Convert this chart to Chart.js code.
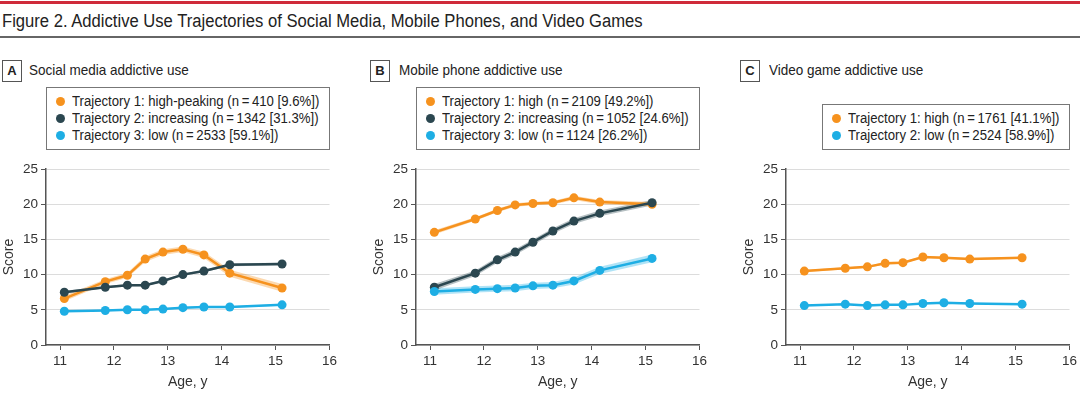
<!DOCTYPE html>
<html>
<head>
<meta charset="utf-8">
<script src="https://cdn.jsdelivr.net/npm/chart.js@4.4.1/dist/chart.umd.min.js"></script>
<style>
  body { margin: 0; background: #fff; overflow: hidden; }
  #fig { position: relative; width: 1080px; height: 396px; font-family: "Liberation Sans", sans-serif; color: #222; }
  .redbar { position: absolute; left: 0; top: 1px; width: 1080px; height: 3px; background: #cf2a3a; }
  .title { position: absolute; left: 2px; top: 10px; font-size: 18px; line-height: 22px; white-space: nowrap; transform: scaleX(0.923); transform-origin: left; }
  .rule { position: absolute; left: 0; top: 36px; width: 1080px; height: 2px; background: #666; }
  .plabel { position: absolute; top: 60px; width: 18px; height: 20px; border: 1.5px solid #555; font-weight: bold; font-size: 13px; line-height: 20px; text-align: center; }
  .ptitle { position: absolute; top: 59px; font-size: 15px; line-height: 22px; white-space: nowrap; transform: scaleX(0.9); transform-origin: left; }
  .legend { position: absolute; border: 1.5px solid #777; background: #fff; box-sizing: border-box; padding: 5px 0 0 9px; }
  .legend div { font-size: 14px; line-height: 17px; white-space: nowrap; }
  .legend .dot { display: inline-block; width: 9px; height: 9px; border-radius: 50%; margin-right: 7px; vertical-align: 0px; }
  .legend .txt { display: inline-block; transform: scaleX(0.94); transform-origin: left; }
  canvas { position: absolute; top: 150px; }
</style>
</head>
<body>
<div id="fig">
  <div class="redbar"></div>
  <div class="title">Figure 2. Addictive Use Trajectories of Social Media, Mobile Phones, and Video Games</div>
  <div class="rule"></div>

  <div class="plabel" style="left:2px">A</div>
  <div class="ptitle" style="left:29px">Social media addictive use</div>
  <div class="plabel" style="left:370px">B</div>
  <div class="ptitle" style="left:399px">Mobile phone addictive use</div>
  <div class="plabel" style="left:740px">C</div>
  <div class="ptitle" style="left:769px">Video game addictive use</div>

  <div class="legend" id="legA" style="left:46px; top:87px; width:284px; height:63px"></div>
  <div class="legend" id="legB" style="left:416px; top:87px; width:284px; height:63px"></div>
  <div class="legend" id="legC" style="left:822px; top:104px; width:248px; height:46px"></div>

  <canvas id="chartA" width="340" height="246" style="left:0px"></canvas>
  <canvas id="chartB" width="340" height="246" style="left:370px"></canvas>
  <canvas id="chartC" width="340" height="246" style="left:740px"></canvas>
</div>

<script>
// eixos
const xTicks = [11, 12, 13, 14, 15, 16];
const yTicks = [0, 5, 10, 15, 20, 25];
const ages = [11.08, 11.84, 12.25, 12.58, 12.91, 13.28, 13.67, 14.15, 15.12];

// A - redes sociais
const socialHigh = [6.6, 9.0, 9.9, 12.2, 13.2, 13.6, 12.8, 10.2, 8.1];
const socialInc = [7.5, 8.2, 8.5, 8.5, 9.1, 10.0, 10.5, 11.4, 11.5];
const socialLow = [4.8, 4.9, 5.0, 5.0, 5.1, 5.3, 5.4, 5.4, 5.7];
const socialHighCI = [0.4, 0.35, 0.35, 0.4, 0.4, 0.4, 0.45, 0.5, 0.55];
const socialIncCI = [0.2, 0.15, 0.15, 0.15, 0.15, 0.15, 0.15, 0.2, 0.2];
const socialLowCI = [0.1, 0.1, 0.1, 0.1, 0.1, 0.1, 0.1, 0.1, 0.12];

// B - celular
const phoneHigh = [16.0, 17.9, 19.1, 19.9, 20.1, 20.2, 20.9, 20.3, 20.0];
const phoneInc = [8.2, 10.2, 12.1, 13.2, 14.6, 16.2, 17.6, 18.7, 20.2];
const phoneLow = [7.6, 7.9, 8.0, 8.1, 8.4, 8.5, 9.1, 10.6, 12.3];
const phoneHighCI = [0.3, 0.25, 0.25, 0.25, 0.25, 0.25, 0.3, 0.3, 0.3];
const phoneIncCI = [0.45, 0.4, 0.4, 0.4, 0.4, 0.4, 0.4, 0.4, 0.4];
const phoneLowCI = [0.45, 0.45, 0.45, 0.45, 0.45, 0.45, 0.5, 0.5, 0.55];

// C - videogame
const gameHigh = [10.5, 10.9, 11.1, 11.6, 11.7, 12.5, 12.4, 12.2, 12.4];
const gameLow = [5.6, 5.8, 5.6, 5.7, 5.7, 5.9, 6.0, 5.9, 5.8];
const gameHighCI = [0.15, 0.15, 0.15, 0.15, 0.15, 0.15, 0.15, 0.15, 0.15];
const gameLowCI = [0.1, 0.1, 0.1, 0.1, 0.1, 0.1, 0.1, 0.1, 0.1];

const labelsA = ["Trajectory 1: high-peaking (n\u2009=\u2009410 [9.6%])", "Trajectory 2: increasing (n\u2009=\u20091342 [31.3%])", "Trajectory 3: low (n\u2009=\u20092533 [59.1%])"];
const labelsB = ["Trajectory 1: high (n\u2009=\u20092109 [49.2%])", "Trajectory 2: increasing (n\u2009=\u20091052 [24.6%])", "Trajectory 3: low (n\u2009=\u20091124 [26.2%])"];
const labelsC = ["Trajectory 1: high (n\u2009=\u20091761 [41.1%])", "Trajectory 2: low (n\u2009=\u20092524 [58.9%])"];

const LARANJA = "#f6921e";
const ESCURO = "#2b4750";
const AZUL = "#1eaee4";
const BANDA = { [LARANJA]: "rgba(246,146,30,0.35)", [ESCURO]: "rgba(43,71,80,0.35)", [AZUL]: "rgba(30,174,228,0.35)" };

const fonte = "'Liberation Sans', sans-serif";

function montarLegenda(id, labels, cores) {
  const el = document.getElementById(id);
  labels.forEach((txt, i) => {
    const row = document.createElement("div");
    row.innerHTML = `<span class="dot" style="background:${cores[i]}"></span><span class="txt">${txt}</span>`;
    el.appendChild(row);
  });
}

function pontos(vals, delta) {
  return ages.map((a, i) => ({ x: a, y: vals[i] + (delta ? delta[i] : 0) }));
}

function criarGrafico(id, series) {
  const datasets = [];
  // bandas de confiança
  series.forEach(s => {
    const low = s.ci.map(v => -v);
    datasets.push({ data: pontos(s.vals, low), borderWidth: 0, pointRadius: 0, fill: false, order: 10 });
    datasets.push({ data: pontos(s.vals, s.ci), borderWidth: 0, pointRadius: 0, fill: "-1", backgroundColor: BANDA[s.cor], order: 10 });
  });
  // linhas
  series.forEach(s => {
    datasets.push({
      data: pontos(s.vals), borderColor: s.cor, backgroundColor: s.cor, borderWidth: 2.5,
      pointRadius: 4.5, pointBorderWidth: 0, pointBackgroundColor: s.cor, fill: false, order: s.ordem
    });
  });

  new Chart(document.getElementById(id), {
    type: "line",
    data: { datasets },
    options: {
      responsive: false,
      animation: false,
      layout: { padding: { top: 19, right: 10, left: 0, bottom: 0 } },
      plugins: { legend: { display: false }, tooltip: { enabled: false } },
      scales: {
        x: {
          type: "linear", min: 10.74, max: 16,
          afterBuildTicks: sc => { sc.ticks = xTicks.map(v => ({ value: v })); },
          afterFit: sc => { sc.height = 51; },
          grid: { drawOnChartArea: false, tickLength: 5, tickColor: "#555" },
          border: { color: "#555", width: 1.5 },
          ticks: { color: "#333", font: { family: fonte, size: 13.5 }, padding: 3 },
          title: { display: true, text: "Age, y", color: "#333", font: { family: fonte, size: 14 }, padding: { top: 0, bottom: 5 } }
        },
        y: {
          min: 0, max: 25,
          afterBuildTicks: sc => { sc.ticks = yTicks.map(v => ({ value: v })); },
          afterFit: sc => { sc.width = 46; },
          grid: { color: "#dcdcdc", lineWidth: 1, tickLength: 5, tickColor: "#555" },
          border: { color: "#555", width: 1.5 },
          ticks: { color: "#333", font: { family: fonte, size: 13.5 }, padding: 3 },
          title: { display: true, text: "Score", color: "#333", font: { family: fonte, size: 14 }, padding: { top: 1, bottom: 0 } }
        }
      }
    }
  });
}

montarLegenda("legA", labelsA, [LARANJA, ESCURO, AZUL]);
montarLegenda("legB", labelsB, [LARANJA, ESCURO, AZUL]);
montarLegenda("legC", labelsC, [LARANJA, AZUL]);

criarGrafico("chartA", [
  { vals: socialHigh, ci: socialHighCI, cor: LARANJA, ordem: 3 },
  { vals: socialInc, ci: socialIncCI, cor: ESCURO, ordem: 2 },
  { vals: socialLow, ci: socialLowCI, cor: AZUL, ordem: 1 }
]);
criarGrafico("chartB", [
  { vals: phoneHigh, ci: phoneHighCI, cor: LARANJA, ordem: 3 },
  { vals: phoneInc, ci: phoneIncCI, cor: ESCURO, ordem: 2 },
  { vals: phoneLow, ci: phoneLowCI, cor: AZUL, ordem: 1 }
]);
criarGrafico("chartC", [
  { vals: gameHigh, ci: gameHighCI, cor: LARANJA, ordem: 3 },
  { vals: gameLow, ci: gameLowCI, cor: AZUL, ordem: 1 }
]);
</script>
</body>
</html>
